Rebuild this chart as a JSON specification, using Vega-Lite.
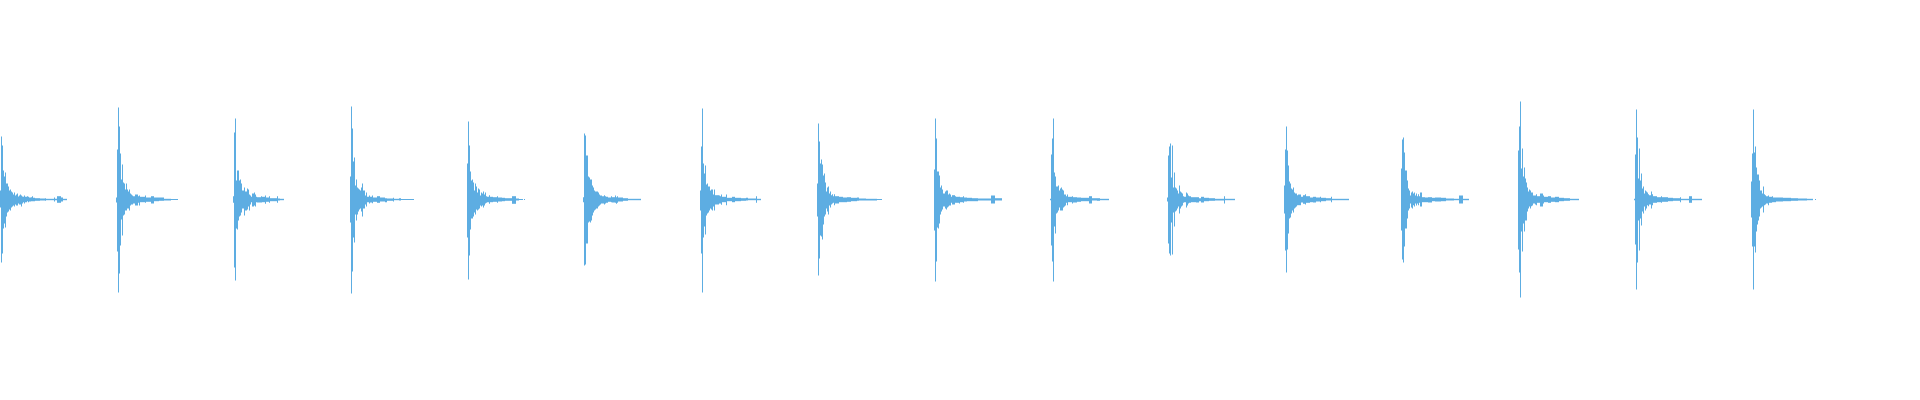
{
"$schema":"https://vega.github.io/schema/vega-lite/v6.json",
"width":1920,"height":400,"padding":0,"autosize":{"type":"none"},
"background":"white",
"config":{"view":{"stroke":null}},
"data":{"values":[
{"t":0,"t2":1,"hi":9,"lo":-8},{"t":1,"t2":2,"hi":63,"lo":-63},{"t":2,"t2":3,"hi":54,"lo":-54},{"t":3,"t2":4,"hi":29,"lo":-29},{"t":4,"t2":5,"hi":23,"lo":-24},{"t":5,"t2":6,"hi":27,"lo":-28},{"t":6,"t2":7,"hi":16,"lo":-17},{"t":7,"t2":8,"hi":16,"lo":-13},{"t":8,"t2":9,"hi":13,"lo":-12},{"t":9,"t2":10,"hi":9,"lo":-10},{"t":10,"t2":11,"hi":10,"lo":-11},{"t":11,"t2":12,"hi":8,"lo":-8},{"t":12,"t2":13,"hi":7,"lo":-7},{"t":13,"t2":14,"hi":5,"lo":-6},{"t":14,"t2":15,"hi":7,"lo":-7},{"t":15,"t2":16,"hi":4,"lo":-5},{"t":16,"t2":17,"hi":5,"lo":-6},{"t":17,"t2":18,"hi":6,"lo":-6},{"t":18,"t2":19,"hi":3,"lo":-4},{"t":19,"t2":20,"hi":4,"lo":-5},{"t":20,"t2":21,"hi":5,"lo":-5},{"t":21,"t2":22,"hi":4,"lo":-7},{"t":22,"t2":23,"hi":3,"lo":-4},{"t":23,"t2":24,"hi":2.7,"lo":-2.7},{"t":24,"t2":25,"hi":4,"lo":-4},{"t":25,"t2":27,"hi":2.7,"lo":-2.7},{"t":27,"t2":28,"hi":3.3,"lo":-1.7},{"t":28,"t2":29,"hi":2.7,"lo":-2.7},{"t":29,"t2":31,"hi":2,"lo":-2},{"t":31,"t2":32,"hi":2.3,"lo":-1.7},{"t":32,"t2":33,"hi":3.3,"lo":-1.7},{"t":33,"t2":35,"hi":1.7,"lo":-1.7},{"t":35,"t2":40,"hi":1.3,"lo":-1.3},{"t":40,"t2":45,"hi":1,"lo":-1},{"t":45,"t2":46,"hi":1.3,"lo":-1.3},{"t":46,"t2":54,"hi":0.7,"lo":-0.7},{"t":54,"t2":55,"hi":2,"lo":-2},{"t":55,"t2":57,"hi":0.7,"lo":-0.7},{"t":57,"t2":61,"hi":3.3,"lo":-3.3},{"t":61,"t2":63,"hi":2,"lo":-2},{"t":63,"t2":67,"hi":0.7,"lo":-0.7},
{"t":116,"t2":117,"hi":2,"lo":-3},{"t":117,"t2":118,"hi":50,"lo":-52},{"t":118,"t2":119,"hi":92,"lo":-93},{"t":119,"t2":120,"hi":73,"lo":-74},{"t":120,"t2":121,"hi":46,"lo":-46},{"t":121,"t2":122,"hi":20,"lo":-20},{"t":122,"t2":123,"hi":35,"lo":-36},{"t":123,"t2":124,"hi":17,"lo":-16},{"t":124,"t2":125,"hi":16,"lo":-15},{"t":125,"t2":126,"hi":10,"lo":-11},{"t":126,"t2":127,"hi":16,"lo":-11},{"t":127,"t2":128,"hi":10,"lo":-9},{"t":128,"t2":129,"hi":8,"lo":-9},{"t":129,"t2":130,"hi":10,"lo":-11},{"t":130,"t2":131,"hi":6,"lo":-6},{"t":131,"t2":132,"hi":5,"lo":-5},{"t":132,"t2":133,"hi":4,"lo":-5},{"t":133,"t2":135,"hi":3.3,"lo":-4},{"t":135,"t2":138,"hi":5,"lo":-6},{"t":138,"t2":139,"hi":3.3,"lo":-3.3},{"t":139,"t2":140,"hi":4,"lo":-6},{"t":140,"t2":145,"hi":2.7,"lo":-2.7},{"t":145,"t2":146,"hi":4,"lo":-3.3},{"t":146,"t2":151,"hi":2,"lo":-2.3},{"t":151,"t2":154,"hi":3.3,"lo":-4},{"t":154,"t2":159,"hi":2,"lo":-1.7},{"t":159,"t2":164,"hi":2,"lo":-1.3},{"t":164,"t2":171,"hi":0.7,"lo":-1},{"t":171,"t2":178,"hi":0.5,"lo":-0.5},
{"t":233,"t2":234,"hi":3.3,"lo":-3.3},{"t":234,"t2":235,"hi":67,"lo":-68},{"t":235,"t2":236,"hi":81,"lo":-81},{"t":236,"t2":237,"hi":19,"lo":-29},{"t":237,"t2":238,"hi":29,"lo":-30},{"t":238,"t2":239,"hi":29,"lo":-21},{"t":239,"t2":240,"hi":19,"lo":-17},{"t":240,"t2":241,"hi":20,"lo":-16},{"t":241,"t2":242,"hi":16,"lo":-13},{"t":242,"t2":244,"hi":9,"lo":-9},{"t":244,"t2":245,"hi":12,"lo":-16},{"t":245,"t2":247,"hi":8,"lo":-11},{"t":247,"t2":248,"hi":11,"lo":-10},{"t":248,"t2":249,"hi":10,"lo":-7},{"t":249,"t2":250,"hi":5,"lo":-11},{"t":250,"t2":251,"hi":4,"lo":-5},{"t":251,"t2":252,"hi":2.7,"lo":-2.7},{"t":252,"t2":254,"hi":6,"lo":-7},{"t":254,"t2":255,"hi":7,"lo":-6},{"t":255,"t2":256,"hi":5,"lo":-7},{"t":256,"t2":257,"hi":2.7,"lo":-2.7},{"t":257,"t2":261,"hi":2.3,"lo":-3},{"t":261,"t2":262,"hi":3.3,"lo":-3},{"t":262,"t2":265,"hi":2.7,"lo":-2.7},{"t":265,"t2":266,"hi":4,"lo":-4.3},{"t":266,"t2":269,"hi":2,"lo":-2.3},{"t":269,"t2":270,"hi":3.3,"lo":-3.3},{"t":270,"t2":277,"hi":1.3,"lo":-1.7},{"t":277,"t2":278,"hi":3.3,"lo":-3.3},{"t":278,"t2":280,"hi":1,"lo":-1},{"t":280,"t2":284,"hi":0.7,"lo":-0.7},
{"t":350,"t2":351,"hi":23,"lo":-23},{"t":351,"t2":352,"hi":93,"lo":-94},{"t":352,"t2":353,"hi":71,"lo":-72},{"t":353,"t2":354,"hi":38,"lo":-38},{"t":354,"t2":355,"hi":42,"lo":-43},{"t":355,"t2":356,"hi":14,"lo":-15},{"t":356,"t2":357,"hi":20,"lo":-21},{"t":357,"t2":358,"hi":12,"lo":-15},{"t":358,"t2":359,"hi":11,"lo":-12},{"t":359,"t2":360,"hi":10,"lo":-10},{"t":360,"t2":361,"hi":9,"lo":-9},{"t":361,"t2":362,"hi":12,"lo":-12},{"t":362,"t2":363,"hi":16,"lo":-17},{"t":363,"t2":365,"hi":9,"lo":-9},{"t":365,"t2":366,"hi":4,"lo":-5},{"t":366,"t2":367,"hi":7,"lo":-7},{"t":367,"t2":369,"hi":2.7,"lo":-2.7},{"t":369,"t2":370,"hi":4,"lo":-4},{"t":370,"t2":372,"hi":2.7,"lo":-3},{"t":372,"t2":373,"hi":4,"lo":-3.7},{"t":373,"t2":377,"hi":2,"lo":-2.3},{"t":377,"t2":380,"hi":3.3,"lo":-3.3},{"t":380,"t2":385,"hi":2,"lo":-2},{"t":385,"t2":387,"hi":1.3,"lo":-2.7},{"t":387,"t2":393,"hi":1,"lo":-1.3},{"t":393,"t2":394,"hi":1.7,"lo":-2},{"t":394,"t2":399,"hi":0.7,"lo":-0.7},{"t":399,"t2":401,"hi":1.3,"lo":-1},{"t":401,"t2":414,"hi":0.5,"lo":-0.5},
{"t":467,"t2":468,"hi":36,"lo":-38},{"t":468,"t2":469,"hi":78,"lo":-80},{"t":469,"t2":470,"hi":54,"lo":-56},{"t":470,"t2":471,"hi":28,"lo":-30},{"t":471,"t2":472,"hi":19,"lo":-19},{"t":472,"t2":473,"hi":20,"lo":-19},{"t":473,"t2":474,"hi":17,"lo":-17},{"t":474,"t2":475,"hi":9,"lo":-13},{"t":475,"t2":476,"hi":16,"lo":-15},{"t":476,"t2":477,"hi":13,"lo":-10},{"t":477,"t2":478,"hi":7,"lo":-11},{"t":478,"t2":479,"hi":11,"lo":-10},{"t":479,"t2":480,"hi":10,"lo":-9},{"t":480,"t2":481,"hi":4,"lo":-6},{"t":481,"t2":482,"hi":7,"lo":-7},{"t":482,"t2":483,"hi":6,"lo":-6},{"t":483,"t2":484,"hi":8,"lo":-8},{"t":484,"t2":485,"hi":5,"lo":-6},{"t":485,"t2":486,"hi":7,"lo":-4},{"t":486,"t2":487,"hi":3.3,"lo":-3.3},{"t":487,"t2":489,"hi":2.7,"lo":-2.7},{"t":489,"t2":490,"hi":4.3,"lo":-4.3},{"t":490,"t2":493,"hi":2.7,"lo":-2.7},{"t":493,"t2":497,"hi":2.3,"lo":-2.3},{"t":497,"t2":498,"hi":3.3,"lo":-3.3},{"t":498,"t2":502,"hi":2,"lo":-2},{"t":502,"t2":505,"hi":1.7,"lo":-1.7},{"t":505,"t2":512,"hi":1.3,"lo":-1.3},{"t":512,"t2":516,"hi":3.3,"lo":-4.3},{"t":516,"t2":519,"hi":1,"lo":-1},{"t":519,"t2":523,"hi":0.5,"lo":-0.5},{"t":524,"t2":525,"hi":0.5,"lo":-0.5},
{"t":583,"t2":584,"hi":2.3,"lo":-2.7},{"t":584,"t2":585,"hi":66,"lo":-66},{"t":585,"t2":586,"hi":64,"lo":-65},{"t":586,"t2":588,"hi":44,"lo":-44},{"t":588,"t2":589,"hi":23,"lo":-23},{"t":589,"t2":590,"hi":22,"lo":-22},{"t":590,"t2":591,"hi":20,"lo":-23},{"t":591,"t2":592,"hi":20,"lo":-21},{"t":592,"t2":593,"hi":14,"lo":-16},{"t":593,"t2":594,"hi":12,"lo":-13},{"t":594,"t2":595,"hi":9,"lo":-11},{"t":595,"t2":596,"hi":8,"lo":-10},{"t":596,"t2":598,"hi":8,"lo":-9},{"t":598,"t2":599,"hi":7,"lo":-7},{"t":599,"t2":600,"hi":5,"lo":-6},{"t":600,"t2":601,"hi":4,"lo":-5},{"t":601,"t2":602,"hi":4,"lo":-4},{"t":602,"t2":604,"hi":3.3,"lo":-4},{"t":604,"t2":605,"hi":4.3,"lo":-5},{"t":605,"t2":606,"hi":3.3,"lo":-4},{"t":606,"t2":608,"hi":2.7,"lo":-3.3},{"t":608,"t2":611,"hi":2,"lo":-2.3},{"t":611,"t2":612,"hi":3.3,"lo":-2.7},{"t":612,"t2":615,"hi":2.3,"lo":-3},{"t":615,"t2":616,"hi":4,"lo":-3.3},{"t":616,"t2":617,"hi":2.3,"lo":-4.3},{"t":617,"t2":618,"hi":3.3,"lo":-3.3},{"t":618,"t2":623,"hi":2,"lo":-2},{"t":623,"t2":628,"hi":1.3,"lo":-1.3},{"t":628,"t2":641,"hi":0.7,"lo":-0.7},
{"t":700,"t2":701,"hi":9,"lo":-11},{"t":701,"t2":702,"hi":53,"lo":-54},{"t":702,"t2":703,"hi":91,"lo":-93},{"t":703,"t2":704,"hi":36,"lo":-38},{"t":704,"t2":705,"hi":26,"lo":-27},{"t":705,"t2":706,"hi":34,"lo":-35},{"t":706,"t2":707,"hi":15,"lo":-16},{"t":707,"t2":708,"hi":16,"lo":-14},{"t":708,"t2":709,"hi":13,"lo":-13},{"t":709,"t2":710,"hi":13,"lo":-11},{"t":710,"t2":711,"hi":9,"lo":-9},{"t":711,"t2":712,"hi":10,"lo":-10},{"t":712,"t2":713,"hi":10,"lo":-11},{"t":713,"t2":714,"hi":5,"lo":-7},{"t":714,"t2":715,"hi":10,"lo":-11},{"t":715,"t2":719,"hi":4.3,"lo":-5},{"t":719,"t2":720,"hi":4,"lo":-4},{"t":720,"t2":721,"hi":3.3,"lo":-4},{"t":721,"t2":722,"hi":5,"lo":-5.3},{"t":722,"t2":726,"hi":2.7,"lo":-2.7},{"t":726,"t2":727,"hi":5,"lo":-5.7},{"t":727,"t2":732,"hi":1.7,"lo":-1.7},{"t":732,"t2":735,"hi":2.7,"lo":-2.7},{"t":735,"t2":741,"hi":1.7,"lo":-1.7},{"t":741,"t2":746,"hi":1.3,"lo":-1.3},{"t":746,"t2":748,"hi":1.7,"lo":-1},{"t":748,"t2":756,"hi":1,"lo":-0.7},{"t":756,"t2":757,"hi":3.3,"lo":-3.3},{"t":757,"t2":761,"hi":0.7,"lo":-0.7},
{"t":817,"t2":818,"hi":16,"lo":-17},{"t":818,"t2":819,"hi":76,"lo":-76},{"t":819,"t2":820,"hi":58,"lo":-59},{"t":820,"t2":821,"hi":36,"lo":-36},{"t":821,"t2":822,"hi":40,"lo":-37},{"t":822,"t2":823,"hi":35,"lo":-40},{"t":823,"t2":824,"hi":24,"lo":-25},{"t":824,"t2":825,"hi":26,"lo":-17},{"t":825,"t2":826,"hi":17,"lo":-15},{"t":826,"t2":827,"hi":8,"lo":-9},{"t":827,"t2":828,"hi":12,"lo":-12},{"t":828,"t2":829,"hi":13,"lo":-15},{"t":829,"t2":830,"hi":6,"lo":-6},{"t":830,"t2":831,"hi":8,"lo":-8},{"t":831,"t2":832,"hi":4.3,"lo":-5},{"t":832,"t2":833,"hi":5.3,"lo":-4},{"t":833,"t2":834,"hi":3.3,"lo":-3.3},{"t":834,"t2":835,"hi":5.3,"lo":-5.7},{"t":835,"t2":839,"hi":3.3,"lo":-4},{"t":839,"t2":843,"hi":2.7,"lo":-2.7},{"t":843,"t2":847,"hi":2,"lo":-2.7},{"t":847,"t2":851,"hi":2.3,"lo":-2.3},{"t":851,"t2":857,"hi":1.7,"lo":-1.7},{"t":857,"t2":859,"hi":2,"lo":-1.3},{"t":859,"t2":866,"hi":1,"lo":-1},{"t":866,"t2":877,"hi":0.7,"lo":-1},{"t":877,"t2":882,"hi":0.5,"lo":-0.5},
{"t":934,"t2":935,"hi":30,"lo":-31},{"t":935,"t2":936,"hi":81,"lo":-82},{"t":936,"t2":937,"hi":61,"lo":-62},{"t":937,"t2":938,"hi":28,"lo":-28},{"t":938,"t2":939,"hi":28,"lo":-29},{"t":939,"t2":940,"hi":24,"lo":-24},{"t":940,"t2":941,"hi":12,"lo":-15},{"t":941,"t2":942,"hi":14,"lo":-12},{"t":942,"t2":943,"hi":10,"lo":-10},{"t":943,"t2":945,"hi":6,"lo":-7},{"t":945,"t2":946,"hi":8,"lo":-9},{"t":946,"t2":947,"hi":9,"lo":-10},{"t":947,"t2":948,"hi":9,"lo":-8},{"t":948,"t2":949,"hi":5,"lo":-7},{"t":949,"t2":950,"hi":6,"lo":-6},{"t":950,"t2":951,"hi":5,"lo":-6},{"t":951,"t2":952,"hi":2.7,"lo":-3.3},{"t":952,"t2":955,"hi":4.3,"lo":-5},{"t":955,"t2":956,"hi":3.3,"lo":-3.3},{"t":956,"t2":959,"hi":2.7,"lo":-3.3},{"t":959,"t2":960,"hi":2.7,"lo":-4},{"t":960,"t2":963,"hi":2.3,"lo":-2.7},{"t":963,"t2":964,"hi":3.3,"lo":-3.3},{"t":964,"t2":967,"hi":2,"lo":-2},{"t":967,"t2":972,"hi":1.7,"lo":-1.7},{"t":972,"t2":978,"hi":1.3,"lo":-1.7},{"t":978,"t2":991,"hi":1,"lo":-1},{"t":991,"t2":995,"hi":4,"lo":-4},{"t":995,"t2":1002,"hi":1.3,"lo":-1},
{"t":1050,"t2":1051,"hi":0.7,"lo":-0.7},{"t":1051,"t2":1052,"hi":45,"lo":-46},{"t":1052,"t2":1053,"hi":61,"lo":-62},{"t":1053,"t2":1054,"hi":81,"lo":-82},{"t":1054,"t2":1055,"hi":27,"lo":-27},{"t":1055,"t2":1056,"hi":23,"lo":-34},{"t":1056,"t2":1057,"hi":13,"lo":-14},{"t":1057,"t2":1058,"hi":13,"lo":-13},{"t":1058,"t2":1059,"hi":14,"lo":-11},{"t":1059,"t2":1060,"hi":9,"lo":-8},{"t":1060,"t2":1061,"hi":11,"lo":-11},{"t":1061,"t2":1062,"hi":12,"lo":-11},{"t":1062,"t2":1063,"hi":10,"lo":-11},{"t":1063,"t2":1064,"hi":9,"lo":-8},{"t":1064,"t2":1065,"hi":5,"lo":-7},{"t":1065,"t2":1066,"hi":5,"lo":-6},{"t":1066,"t2":1067,"hi":3.3,"lo":-3.3},{"t":1067,"t2":1068,"hi":5,"lo":-5.7},{"t":1068,"t2":1072,"hi":2.7,"lo":-2.7},{"t":1072,"t2":1073,"hi":3.3,"lo":-4},{"t":1073,"t2":1077,"hi":2.3,"lo":-3},{"t":1077,"t2":1081,"hi":2,"lo":-2.3},{"t":1081,"t2":1089,"hi":1.7,"lo":-1.7},{"t":1089,"t2":1092,"hi":3.3,"lo":-4},{"t":1092,"t2":1097,"hi":1.3,"lo":-1},{"t":1097,"t2":1100,"hi":1.3,"lo":-1.3},{"t":1100,"t2":1109,"hi":0.7,"lo":-0.7},
{"t":1167,"t2":1168,"hi":2,"lo":-2},{"t":1168,"t2":1169,"hi":44,"lo":-44},{"t":1169,"t2":1170,"hi":53,"lo":-54},{"t":1170,"t2":1171,"hi":56,"lo":-56},{"t":1171,"t2":1172,"hi":22,"lo":-23},{"t":1172,"t2":1173,"hi":54,"lo":-55},{"t":1173,"t2":1174,"hi":12,"lo":-13},{"t":1174,"t2":1175,"hi":27,"lo":-27},{"t":1175,"t2":1176,"hi":12,"lo":-12},{"t":1176,"t2":1177,"hi":11,"lo":-11},{"t":1177,"t2":1178,"hi":9,"lo":-9},{"t":1178,"t2":1179,"hi":6,"lo":-7},{"t":1179,"t2":1180,"hi":14,"lo":-14},{"t":1180,"t2":1181,"hi":8,"lo":-9},{"t":1181,"t2":1182,"hi":7,"lo":-7},{"t":1182,"t2":1183,"hi":6,"lo":-6},{"t":1183,"t2":1184,"hi":3.3,"lo":-3.3},{"t":1184,"t2":1186,"hi":2.7,"lo":-2.7},{"t":1186,"t2":1187,"hi":7,"lo":-8},{"t":1187,"t2":1188,"hi":6,"lo":-6},{"t":1188,"t2":1189,"hi":4,"lo":-4},{"t":1189,"t2":1191,"hi":3.3,"lo":-3.3},{"t":1191,"t2":1196,"hi":2.3,"lo":-2.7},{"t":1196,"t2":1199,"hi":2.3,"lo":-3},{"t":1199,"t2":1201,"hi":1.3,"lo":-1.7},{"t":1201,"t2":1204,"hi":2.7,"lo":-3},{"t":1204,"t2":1209,"hi":1.7,"lo":-1.7},{"t":1209,"t2":1215,"hi":1.3,"lo":-1.3},{"t":1215,"t2":1224,"hi":0.7,"lo":-1},{"t":1224,"t2":1225,"hi":3.3,"lo":-4},{"t":1225,"t2":1235,"hi":0.7,"lo":-0.7},
{"t":1284,"t2":1285,"hi":14,"lo":-14},{"t":1285,"t2":1286,"hi":50,"lo":-51},{"t":1286,"t2":1287,"hi":73,"lo":-73},{"t":1287,"t2":1288,"hi":49,"lo":-50},{"t":1288,"t2":1289,"hi":34,"lo":-34},{"t":1289,"t2":1290,"hi":18,"lo":-19},{"t":1290,"t2":1291,"hi":16,"lo":-18},{"t":1291,"t2":1292,"hi":11,"lo":-14},{"t":1292,"t2":1293,"hi":10,"lo":-11},{"t":1293,"t2":1294,"hi":12,"lo":-13},{"t":1294,"t2":1295,"hi":7,"lo":-9},{"t":1295,"t2":1296,"hi":6,"lo":-8},{"t":1296,"t2":1297,"hi":6,"lo":-7},{"t":1297,"t2":1298,"hi":4.3,"lo":-5.7},{"t":1298,"t2":1301,"hi":5,"lo":-5.7},{"t":1301,"t2":1303,"hi":2.7,"lo":-3},{"t":1303,"t2":1305,"hi":4.3,"lo":-4.3},{"t":1305,"t2":1306,"hi":5.3,"lo":-5},{"t":1306,"t2":1310,"hi":3.3,"lo":-3.3},{"t":1310,"t2":1313,"hi":2,"lo":-2.7},{"t":1313,"t2":1316,"hi":2.7,"lo":-3},{"t":1316,"t2":1320,"hi":2,"lo":-2},{"t":1320,"t2":1321,"hi":2.7,"lo":-2.7},{"t":1321,"t2":1326,"hi":1.7,"lo":-1.7},{"t":1326,"t2":1331,"hi":1.3,"lo":-1},{"t":1331,"t2":1332,"hi":2.7,"lo":-2.7},{"t":1332,"t2":1349,"hi":0.7,"lo":-0.7},
{"t":1401,"t2":1402,"hi":31,"lo":-31},{"t":1402,"t2":1403,"hi":60,"lo":-60},{"t":1403,"t2":1404,"hi":62,"lo":-63},{"t":1404,"t2":1405,"hi":47,"lo":-47},{"t":1405,"t2":1407,"hi":29,"lo":-29},{"t":1407,"t2":1408,"hi":19,"lo":-19},{"t":1408,"t2":1409,"hi":11,"lo":-11},{"t":1409,"t2":1410,"hi":9,"lo":-9},{"t":1410,"t2":1411,"hi":4,"lo":-4},{"t":1411,"t2":1412,"hi":7,"lo":-8},{"t":1412,"t2":1413,"hi":8,"lo":-9},{"t":1413,"t2":1414,"hi":6,"lo":-5.7},{"t":1414,"t2":1415,"hi":7,"lo":-7},{"t":1415,"t2":1416,"hi":4,"lo":-4},{"t":1416,"t2":1417,"hi":6,"lo":-6},{"t":1417,"t2":1418,"hi":3.3,"lo":-4},{"t":1418,"t2":1419,"hi":5.3,"lo":-5.7},{"t":1419,"t2":1420,"hi":3.3,"lo":-3.3},{"t":1420,"t2":1422,"hi":7,"lo":-7},{"t":1422,"t2":1425,"hi":2.3,"lo":-2.7},{"t":1425,"t2":1428,"hi":2,"lo":-2.7},{"t":1428,"t2":1432,"hi":2.3,"lo":-3},{"t":1432,"t2":1435,"hi":1.7,"lo":-1.7},{"t":1435,"t2":1441,"hi":2,"lo":-2},{"t":1441,"t2":1446,"hi":1.7,"lo":-1.7},{"t":1446,"t2":1454,"hi":1,"lo":-1},{"t":1454,"t2":1459,"hi":0.7,"lo":-0.7},{"t":1459,"t2":1463,"hi":4,"lo":-4},{"t":1463,"t2":1469,"hi":0.7,"lo":-0.7},
{"t":1518,"t2":1519,"hi":49,"lo":-50},{"t":1519,"t2":1520,"hi":73,"lo":-73},{"t":1520,"t2":1521,"hi":98,"lo":-98},{"t":1521,"t2":1522,"hi":31,"lo":-32},{"t":1522,"t2":1523,"hi":51,"lo":-52},{"t":1523,"t2":1524,"hi":23,"lo":-24},{"t":1524,"t2":1525,"hi":32,"lo":-32},{"t":1525,"t2":1526,"hi":21,"lo":-21},{"t":1526,"t2":1527,"hi":17,"lo":-21},{"t":1527,"t2":1528,"hi":12,"lo":-12},{"t":1528,"t2":1529,"hi":8,"lo":-9},{"t":1529,"t2":1530,"hi":10,"lo":-7},{"t":1530,"t2":1531,"hi":9,"lo":-9},{"t":1531,"t2":1532,"hi":7,"lo":-6.7},{"t":1532,"t2":1533,"hi":7,"lo":-6},{"t":1533,"t2":1535,"hi":4,"lo":-4},{"t":1535,"t2":1536,"hi":4,"lo":-5},{"t":1536,"t2":1537,"hi":5.3,"lo":-5.7},{"t":1537,"t2":1540,"hi":3.3,"lo":-3.3},{"t":1540,"t2":1543,"hi":6,"lo":-7},{"t":1543,"t2":1544,"hi":4,"lo":-4},{"t":1544,"t2":1548,"hi":2.7,"lo":-2.7},{"t":1548,"t2":1551,"hi":3.3,"lo":-3.3},{"t":1551,"t2":1555,"hi":2,"lo":-2.3},{"t":1555,"t2":1559,"hi":2.7,"lo":-2.7},{"t":1559,"t2":1564,"hi":1.7,"lo":-1.7},{"t":1564,"t2":1570,"hi":1.3,"lo":-1.3},{"t":1570,"t2":1579,"hi":0.7,"lo":-0.7},
{"t":1634,"t2":1635,"hi":0.7,"lo":-0.7},{"t":1635,"t2":1636,"hi":45,"lo":-45},{"t":1636,"t2":1637,"hi":90,"lo":-90},{"t":1637,"t2":1638,"hi":62,"lo":-63},{"t":1638,"t2":1639,"hi":21,"lo":-21},{"t":1639,"t2":1640,"hi":51,"lo":-51},{"t":1640,"t2":1641,"hi":19,"lo":-19},{"t":1641,"t2":1642,"hi":26,"lo":-26},{"t":1642,"t2":1643,"hi":11,"lo":-12},{"t":1643,"t2":1644,"hi":13,"lo":-14},{"t":1644,"t2":1645,"hi":6,"lo":-7},{"t":1645,"t2":1646,"hi":9,"lo":-11},{"t":1646,"t2":1647,"hi":8,"lo":-9},{"t":1647,"t2":1648,"hi":7,"lo":-5.7},{"t":1648,"t2":1649,"hi":5.3,"lo":-6.7},{"t":1649,"t2":1651,"hi":4.3,"lo":-5},{"t":1651,"t2":1652,"hi":8,"lo":-9},{"t":1652,"t2":1653,"hi":5.3,"lo":-5.7},{"t":1653,"t2":1657,"hi":3.3,"lo":-3.3},{"t":1657,"t2":1661,"hi":2.3,"lo":-2.7},{"t":1661,"t2":1662,"hi":3.3,"lo":-3.3},{"t":1662,"t2":1668,"hi":2.3,"lo":-2.3},{"t":1668,"t2":1673,"hi":1.7,"lo":-1.7},{"t":1673,"t2":1680,"hi":1.3,"lo":-1.3},{"t":1680,"t2":1681,"hi":2.3,"lo":-2.7},{"t":1681,"t2":1689,"hi":0.7,"lo":-0.7},{"t":1689,"t2":1692,"hi":3.3,"lo":-3.3},{"t":1692,"t2":1702,"hi":0.7,"lo":-0.7},
{"t":1751,"t2":1752,"hi":18,"lo":-18},{"t":1752,"t2":1753,"hi":46,"lo":-47},{"t":1753,"t2":1754,"hi":90,"lo":-90},{"t":1754,"t2":1755,"hi":47,"lo":-47},{"t":1755,"t2":1756,"hi":53,"lo":-53},{"t":1756,"t2":1757,"hi":32,"lo":-32},{"t":1757,"t2":1758,"hi":25,"lo":-25},{"t":1758,"t2":1759,"hi":25,"lo":-21},{"t":1759,"t2":1760,"hi":19,"lo":-17},{"t":1760,"t2":1761,"hi":9,"lo":-9},{"t":1761,"t2":1762,"hi":9,"lo":-8},{"t":1762,"t2":1763,"hi":6,"lo":-7},{"t":1763,"t2":1764,"hi":13,"lo":-13},{"t":1764,"t2":1765,"hi":5.3,"lo":-5.7},{"t":1765,"t2":1766,"hi":4.3,"lo":-5},{"t":1766,"t2":1768,"hi":3.3,"lo":-4},{"t":1768,"t2":1769,"hi":4,"lo":-5.7},{"t":1769,"t2":1772,"hi":2.7,"lo":-3.3},{"t":1772,"t2":1773,"hi":3.3,"lo":-2.7},{"t":1773,"t2":1776,"hi":2,"lo":-2.7},{"t":1776,"t2":1783,"hi":2,"lo":-2},{"t":1783,"t2":1791,"hi":1.7,"lo":-1.7},{"t":1791,"t2":1798,"hi":1.3,"lo":-1.3},{"t":1798,"t2":1807,"hi":1,"lo":-1},{"t":1807,"t2":1813,"hi":0.7,"lo":-0.7},{"t":1815,"t2":1816,"hi":0.5,"lo":-0.5}
]},
"mark":{"type":"rect","color":"#5DADE2","strokeWidth":0},
"encoding":{
"x":{"field":"t","type":"quantitative","scale":{"domain":[0,1920],"nice":false,"zero":false},"axis":null},
"x2":{"field":"t2"},
"y":{"field":"hi","type":"quantitative","scale":{"domain":[-200.5,199.5],"nice":false,"zero":false},"axis":null},
"y2":{"field":"lo"}
}
}
